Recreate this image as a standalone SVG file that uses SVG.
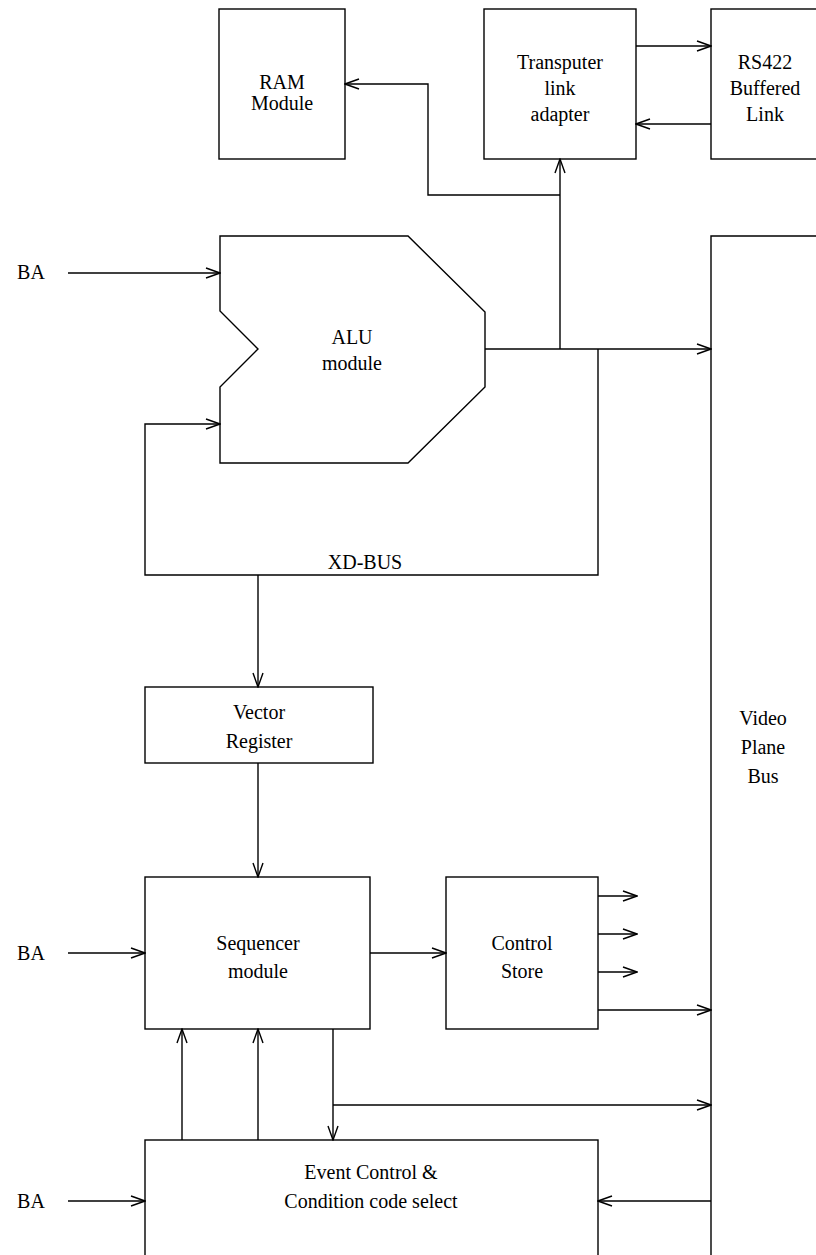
<svg xmlns="http://www.w3.org/2000/svg" width="816" height="1255" viewBox="0 0 816 1255">
<defs>
<style>
.b{fill:none;stroke:#000;stroke-width:1.4}
.c{fill:none;stroke:#000;stroke-width:1.4}
.t{font-family:"Liberation Serif","Times New Roman",serif;font-size:20px;fill:#000;text-anchor:middle}
</style>
<marker id="a" viewBox="0 0 16 12" refX="15" refY="6" markerWidth="16" markerHeight="12" markerUnits="userSpaceOnUse" orient="auto">
<path d="M1,1 L15,6 L1,11" fill="none" stroke="#000" stroke-width="1.4"/>
</marker>
</defs>
<rect width="816" height="1255" fill="#fff"/>
<g id="ram"><rect class="b" x="219" y="9" width="126" height="150"/><text class="t" x="282" y="89">RAM</text><text class="t" x="282" y="110">Module</text></g>
<g id="transputer"><rect class="b" x="484" y="9" width="152" height="150"/><text class="t" x="560" y="69">Transputer</text><text class="t" x="560" y="95">link</text><text class="t" x="560" y="121">adapter</text></g>
<g id="rs422"><rect class="b" x="711" y="9" width="120" height="150"/><text class="t" x="765" y="69">RS422</text><text class="t" x="765" y="95">Buffered</text><text class="t" x="765" y="121">Link</text></g>
<g id="alu"><polygon class="b" points="220,236 408,236 485,312 485,387 408,463 220,463 220,387 258,349 220,311"/><text class="t" x="352" y="344">ALU</text><text class="t" x="352" y="370">module</text></g>
<g id="videobus"><polyline class="b" points="816,236 711,236 711,1255"/><text class="t" x="763" y="725">Video</text><text class="t" x="763" y="754">Plane</text><text class="t" x="763" y="783">Bus</text></g>
<g id="vector"><rect class="b" x="145" y="687" width="228" height="76"/><text class="t" x="259" y="719">Vector</text><text class="t" x="259" y="748">Register</text></g>
<g id="sequencer"><rect class="b" x="145" y="877" width="225" height="152"/><text class="t" x="258" y="950">Sequencer</text><text class="t" x="258" y="978">module</text></g>
<g id="controlstore"><rect class="b" x="446" y="877" width="152" height="152"/><text class="t" x="522" y="950">Control</text><text class="t" x="522" y="978">Store</text></g>
<g id="event"><rect class="b" x="145" y="1140" width="453" height="130"/><text class="t" x="371" y="1179">Event Control &amp;</text><text class="t" x="371" y="1208">Condition code select</text></g>
<g id="labels"><text class="t" x="31" y="279">BA</text><text class="t" x="31" y="960">BA</text><text class="t" x="31" y="1208">BA</text><text class="t" x="365" y="569">XD-BUS</text></g>
<g id="connectors">
<line class="c" x1="636" y1="46" x2="711" y2="46" marker-end="url(#a)"/>
<line class="c" x1="711" y1="124" x2="636" y2="124" marker-end="url(#a)"/>
<line class="c" x1="560" y1="349" x2="560" y2="159" marker-end="url(#a)"/>
<polyline class="c" points="560,195 428,195 428,84 345,84" marker-end="url(#a)"/>
<line class="c" x1="68" y1="273" x2="220" y2="273" marker-end="url(#a)"/>
<line class="c" x1="485" y1="349" x2="711" y2="349" marker-end="url(#a)"/>
<polyline class="c" points="598,349 598,575 145,575 145,424 220,424" marker-end="url(#a)"/>
<line class="c" x1="258" y1="575" x2="258" y2="687" marker-end="url(#a)"/>
<line class="c" x1="258" y1="763" x2="258" y2="877" marker-end="url(#a)"/>
<line class="c" x1="68" y1="953" x2="145" y2="953" marker-end="url(#a)"/>
<line class="c" x1="370" y1="953" x2="446" y2="953" marker-end="url(#a)"/>
<line class="c" x1="598" y1="896" x2="637" y2="896" marker-end="url(#a)"/>
<line class="c" x1="598" y1="934" x2="637" y2="934" marker-end="url(#a)"/>
<line class="c" x1="598" y1="972" x2="637" y2="972" marker-end="url(#a)"/>
<line class="c" x1="598" y1="1010" x2="711" y2="1010" marker-end="url(#a)"/>
<line class="c" x1="182" y1="1140" x2="182" y2="1029" marker-end="url(#a)"/>
<line class="c" x1="258" y1="1140" x2="258" y2="1029" marker-end="url(#a)"/>
<line class="c" x1="333" y1="1029" x2="333" y2="1140" marker-end="url(#a)"/>
<line class="c" x1="333" y1="1105" x2="711" y2="1105" marker-end="url(#a)"/>
<line class="c" x1="68" y1="1201" x2="145" y2="1201" marker-end="url(#a)"/>
<line class="c" x1="711" y1="1201" x2="598" y2="1201" marker-end="url(#a)"/>
</g>
</svg>
